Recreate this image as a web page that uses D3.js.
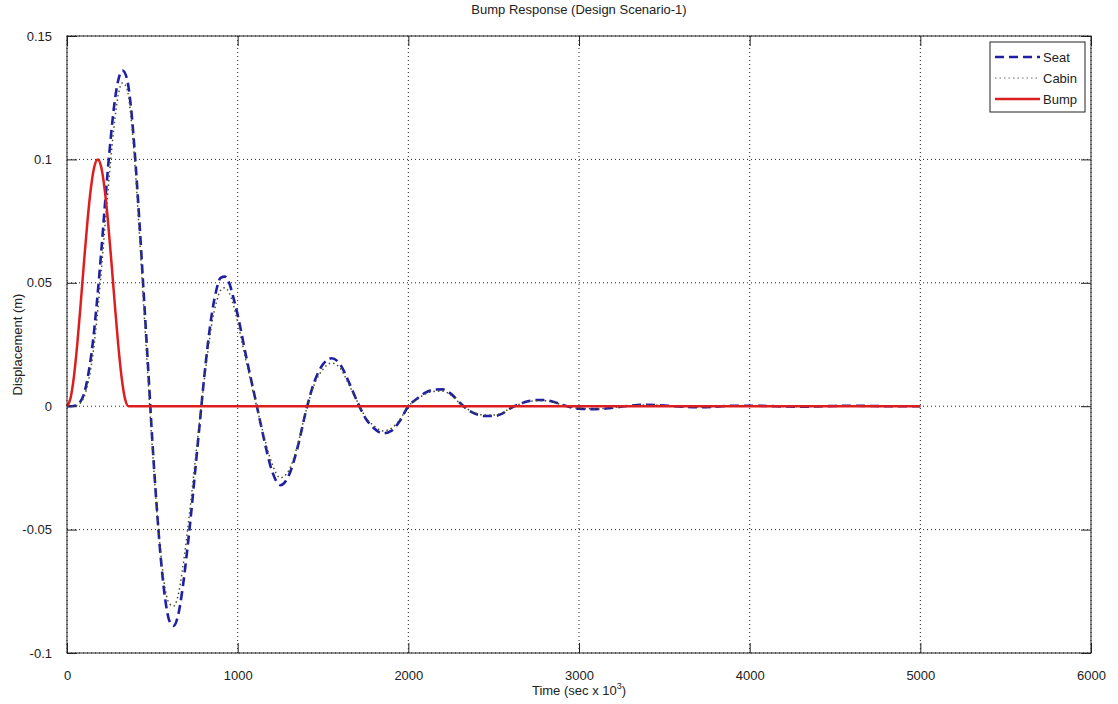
<!DOCTYPE html>
<html>
<head>
<meta charset="utf-8">
<script src="https://cdn.jsdelivr.net/npm/d3@7"></script>
<style>
  body { margin: 0; background: #fff; }
  svg { display: block; font-family: "Liberation Sans", Arial, sans-serif; }
</style>
</head>
<body>
<div id="container"></div>
<script>
// time samples (sec x 10^3) shared by seat and cabin
const respTime = [0, 25, 50, 75, 100, 125, 150, 175, 200, 225, 250, 275, 300, 325, 350, 375, 400, 425, 450, 475,
  500, 525, 550, 575, 600, 625, 650, 675, 700, 725, 750, 775, 800, 825, 850, 875, 900, 925, 950, 975,
  1000, 1050, 1100, 1125, 1150, 1200, 1250, 1300, 1350, 1400, 1450, 1500, 1550, 1600, 1650, 1700, 1750, 1800, 1850, 1900,
  1950, 2000, 2050, 2100, 2150, 2200, 2250, 2300, 2350, 2400, 2450, 2500, 2550, 2600, 2650, 2700, 2750, 2800, 2850, 2900,
  2950, 3000, 3100, 3200, 3300, 3400, 3500, 3600, 3700, 3800, 3900, 4000, 4100, 4200, 4300, 4400, 4500, 4600, 4700, 4800,
  4900, 5000];

const seatVals = [0, 0, 0.0003, 0.0015, 0.005, 0.013, 0.025, 0.042, 0.062, 0.084, 0.104, 0.121, 0.132, 0.136, 0.133, 0.121, 0.100, 0.074, 0.045, 0.016,
  -0.014, -0.040, -0.062, -0.078, -0.087, -0.089, -0.085, -0.075, -0.061, -0.045, -0.027, -0.009, 0.009, 0.025, 0.038, 0.047, 0.052, 0.0525, 0.050, 0.044,
  0.037, 0.020, 0.004, -0.004, -0.012, -0.026, -0.032, -0.028, -0.017, -0.002, 0.010, 0.017, 0.0194, 0.017, 0.010, 0.002, -0.005, -0.009, -0.011, -0.010,
  -0.006, 0.000, 0.003, 0.0055, 0.0067, 0.0068, 0.005, 0.0015, -0.0015, -0.0033, -0.004, -0.004, -0.003, -0.0008, 0.0008, 0.002, 0.0025, 0.0025, 0.0018, 0.0006,
  -0.0004, -0.001, -0.0012, -0.0006, 0.0002, 0.0006, 0.0003, -0.0002, -0.0004, -0.0002, 0.0002, 0.0002, 0.0001, -0.0001, -0.0002, -0.0001, 0.0001, 0.0002, 0.0001, 0,
  0, 0];

const cabinVals = [0, 0, 0.0002, 0.001, 0.0038, 0.010, 0.020, 0.035, 0.054, 0.075, 0.095, 0.113, 0.126, 0.131, 0.129, 0.117, 0.096, 0.069, 0.040, 0.011,
  -0.017, -0.041, -0.060, -0.074, -0.080, -0.081, -0.077, -0.067, -0.054, -0.039, -0.023, -0.007, 0.008, 0.022, 0.034, 0.042, 0.047, 0.048, 0.046, 0.041,
  0.034, 0.018, 0.003, -0.004, -0.011, -0.023, -0.029, -0.026, -0.016, -0.002, 0.009, 0.015, 0.0175, 0.0155, 0.009, 0.002, -0.0045, -0.008, -0.010, -0.009,
  -0.0055, 0.000, 0.0027, 0.005, 0.006, 0.0061, 0.0045, 0.0013, -0.0013, -0.003, -0.0036, -0.0036, -0.0027, -0.0007, 0.0007, 0.0018, 0.0022, 0.0022, 0.0016, 0.0005,
  -0.0003, -0.0009, -0.0011, -0.0005, 0.0002, 0.0005, 0.0003, -0.0002, -0.0003, -0.0002, 0.0001, 0.0002, 0.0001, -0.0001, -0.0001, -0.0001, 0.0001, 0.0001, 0.0001, 0,
  0, 0];

// bump input
const bumpTime = [0, 20, 40, 60, 80, 100, 120, 140, 160, 180, 200, 220, 240, 260, 280, 300, 320, 340, 360, 5000];
const bumpVals = [0, 0.0030, 0.0117, 0.025, 0.0413, 0.0587, 0.075, 0.0883, 0.097, 0.100, 0.097, 0.0883, 0.075, 0.0587, 0.0413, 0.025, 0.0117, 0.003, 0, 0];

const xTicks = [0, 1000, 2000, 3000, 4000, 5000, 6000];
const yTicks = [-0.1, -0.05, 0, 0.05, 0.1, 0.15];
const yTickLabels = ["-0.1", "-0.05", "0", "0.05", "0.1", "0.15"];

const seriesNames = ["Seat", "Cabin", "Bump"];

const w = 1118;
const h = 704;
const padL = 67, padR = 1091, padT = 36, padB = 653;

const svg = d3.select("#container")
  .append("svg")
  .attr("width", w)
  .attr("height", h);

const x = d3.scaleLinear().domain([0, 6000]).range([padL, padR]);
const y = d3.scaleLinear().domain([-0.1, 0.15]).range([padB, padT]);

// dotted grid
svg.append("g")
  .selectAll("line.vgrid")
  .data(xTicks)
  .enter().append("line")
  .attr("x1", d => x(d)).attr("x2", d => x(d))
  .attr("y1", padT).attr("y2", padB)
  .attr("stroke", "#222")
  .attr("stroke-width", 1)
  .attr("stroke-dasharray", "1,3");

svg.append("g")
  .selectAll("line.hgrid")
  .data(yTicks)
  .enter().append("line")
  .attr("x1", padL).attr("x2", padR)
  .attr("y1", d => y(d)).attr("y2", d => y(d))
  .attr("stroke", "#222")
  .attr("stroke-width", 1)
  .attr("stroke-dasharray", "1,3");

// axes, ticks pointing inside on all four sides
const styleAxis = g => {
  g.select(".domain").remove();
  g.selectAll(".tick line").attr("stroke", "#222");
  g.selectAll(".tick text").attr("fill", "#222").style("font-size", "13px").style("font-family", "Liberation Sans, Arial, sans-serif");
};

svg.append("g")
  .attr("transform", `translate(0,${padB})`)
  .call(d3.axisBottom(x).tickValues(xTicks).tickSize(-10).tickPadding(18).tickFormat(d3.format("d")))
  .call(styleAxis);

svg.append("g")
  .attr("transform", `translate(0,${padT})`)
  .call(d3.axisTop(x).tickValues(xTicks).tickSize(-10).tickFormat(""))
  .call(styleAxis);

svg.append("g")
  .attr("transform", `translate(${padL},0)`)
  .call(d3.axisLeft(y).tickValues(yTicks).tickSize(-10).tickPadding(15).tickFormat((d, i) => yTickLabels[i]))
  .call(styleAxis);

svg.append("g")
  .attr("transform", `translate(${padR},0)`)
  .call(d3.axisRight(y).tickValues(yTicks).tickSize(-10).tickFormat(""))
  .call(styleAxis);

// curves
const respData = (vals) => respTime.map((t, i) => [t, vals[i]]);
const bumpData = bumpTime.map((t, i) => [t, bumpVals[i]]);

const line = d3.line()
  .x(d => x(d[0]))
  .y(d => y(d[1]))
  .curve(d3.curveMonotoneX);

const seatColor = "#1f1fa3";
const cabinColor = "#47522c";
const bumpColor = "#dd1e1e";

svg.append("path")
  .datum(respData(seatVals))
  .attr("d", line)
  .attr("fill", "none")
  .attr("stroke", seatColor)
  .attr("stroke-width", 2.6)
  .attr("stroke-dasharray", "9,5");

svg.append("path")
  .datum(respData(cabinVals))
  .attr("d", line)
  .attr("fill", "none")
  .attr("stroke", cabinColor)
  .attr("stroke-width", 1.5)
  .attr("stroke-dasharray", "1.5,3");

svg.append("path")
  .datum(bumpData)
  .attr("d", line)
  .attr("fill", "none")
  .attr("stroke", bumpColor)
  .attr("stroke-width", 2.5);

// frame
svg.append("rect")
  .attr("x", padL).attr("y", padT)
  .attr("width", padR - padL).attr("height", padB - padT)
  .attr("fill", "none")
  .attr("stroke", "#222")
  .attr("stroke-width", 1);

// title and axis labels
svg.append("text")
  .attr("x", (padL + padR) / 2)
  .attr("y", 14)
  .attr("text-anchor", "middle")
  .style("font-size", "13px")
  .attr("fill", "#222")
  .text("Bump Response (Design Scenario-1)");

const xl = svg.append("text")
  .attr("x", (padL + padR) / 2)
  .attr("y", 695)
  .attr("text-anchor", "middle")
  .style("font-size", "13px")
  .attr("fill", "#222");
xl.append("tspan").text("Time (sec x 10");
xl.append("tspan").attr("dy", -6).style("font-size", "9px").text("3");
xl.append("tspan").attr("dy", 6).text(")");

svg.append("text")
  .attr("transform", `translate(22,${(padT + padB) / 2}) rotate(-90)`)
  .attr("text-anchor", "middle")
  .style("font-size", "13px")
  .attr("fill", "#222")
  .text("Displacement (m)");

// legend
const legend = svg.append("g");
legend.append("rect")
  .attr("x", 990).attr("y", 42)
  .attr("width", 95).attr("height", 70)
  .attr("fill", "#fff")
  .attr("stroke", "#222")
  .attr("stroke-width", 1);

const legendStyles = [
  { color: seatColor, width: 2.6, dash: "9,5" },
  { color: "#666", width: 1.2, dash: "1.5,3" },
  { color: bumpColor, width: 2.5, dash: null }
];

seriesNames.forEach((name, i) => {
  const ly = 57 + i * 21;
  legend.append("line")
    .attr("x1", 995).attr("x2", 1040)
    .attr("y1", ly).attr("y2", ly)
    .attr("stroke", legendStyles[i].color)
    .attr("stroke-width", legendStyles[i].width)
    .attr("stroke-dasharray", legendStyles[i].dash);
  legend.append("text")
    .attr("x", 1043)
    .attr("y", ly + 5)
    .style("font-size", "13px")
    .attr("fill", "#222")
    .text(name);
});
</script>
</body>
</html>
